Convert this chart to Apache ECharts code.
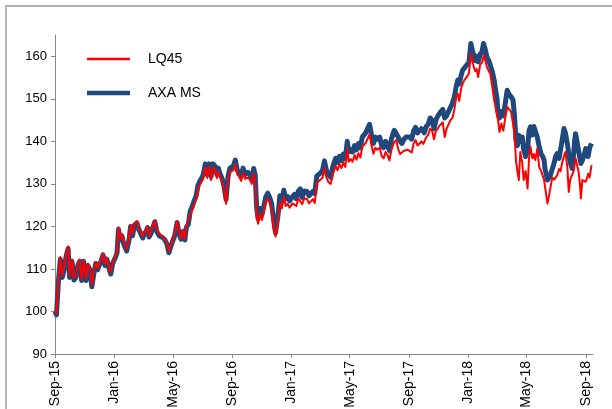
<!DOCTYPE html>
<html>
<head>
<meta charset="utf-8">
<script src="https://cdn.jsdelivr.net/npm/echarts@6/dist/echarts.min.js"></script>
<style>
html,body{margin:0;padding:0;background:#fff;}
#frame{position:absolute;left:5px;top:5px;width:620px;height:420px;border-top:2px solid #b4b4b4;border-left:2px solid #b4b4b4;box-sizing:border-box;}
#chart{position:absolute;left:0;top:0;width:612px;height:409px;}
</style>
</head>
<body>
<div id="frame"></div>
<div id="chart"></div>
<script>
const tickDates = ['2015-09-01','2016-01-01','2016-05-01','2016-09-01','2017-01-01','2017-05-01','2017-09-01','2018-01-01','2018-05-01','2018-09-01'];
const tickLabels = ['Sep-15','Jan-16','May-16','Sep-16','Jan-17','May-17','Sep-17','Jan-18','May-18','Sep-18'];
const yTicks = [90,100,110,120,130,140,150,160];

const dates = [
'2015-09-01','2015-09-04','2015-09-08','2015-09-12','2015-09-16','2015-09-20','2015-09-24','2015-09-28',
'2015-10-01','2015-10-06','2015-10-10','2015-10-14','2015-10-18','2015-10-22','2015-10-26','2015-10-30',
'2015-11-04','2015-11-08','2015-11-12','2015-11-16','2015-11-20','2015-11-24','2015-11-28',
'2015-12-01','2015-12-05','2015-12-09','2015-12-13','2015-12-17','2015-12-21','2015-12-25','2015-12-29',
'2016-01-04','2016-01-07','2016-01-10','2016-01-14','2016-01-17','2016-01-21','2016-01-27',
'2016-02-01','2016-02-04','2016-02-08','2016-02-12','2016-02-17','2016-02-21','2016-02-25','2016-02-29',
'2016-03-03','2016-03-07','2016-03-10','2016-03-13','2016-03-17','2016-03-21','2016-03-25','2016-03-29',
'2016-04-03','2016-04-07','2016-04-11','2016-04-15','2016-04-19','2016-04-23','2016-04-27',
'2016-05-01','2016-05-05','2016-05-10','2016-05-14','2016-05-18','2016-05-22','2016-05-26','2016-05-29',
'2016-06-02','2016-06-06','2016-06-10','2016-06-14','2016-06-18','2016-06-22','2016-06-26','2016-06-29',
'2016-07-03','2016-07-07','2016-07-11','2016-07-15','2016-07-19','2016-07-23','2016-07-27','2016-07-31',
'2016-08-03','2016-08-07','2016-08-11','2016-08-15','2016-08-19','2016-08-23','2016-08-27',
'2016-09-03','2016-09-07','2016-09-11','2016-09-15','2016-09-19','2016-09-23','2016-09-27',
'2016-10-03','2016-10-07','2016-10-11','2016-10-15','2016-10-18','2016-10-21','2016-10-24','2016-10-28',
'2016-11-01','2016-11-05','2016-11-09','2016-11-13','2016-11-17','2016-11-21','2016-11-25','2016-11-29',
'2016-12-04','2016-12-08','2016-12-12','2016-12-16','2016-12-20','2016-12-24','2016-12-28',
'2017-01-03','2017-01-07','2017-01-11','2017-01-15','2017-01-19','2017-01-23','2017-01-27',
'2017-02-02','2017-02-06','2017-02-10','2017-02-14','2017-02-18','2017-02-22','2017-02-26',
'2017-03-02','2017-03-06','2017-03-10','2017-03-14','2017-03-18','2017-03-23','2017-03-27','2017-03-30',
'2017-04-02','2017-04-06','2017-04-10','2017-04-14','2017-04-18','2017-04-22','2017-04-26','2017-04-29',
'2017-05-03','2017-05-07','2017-05-11','2017-05-15','2017-05-19','2017-05-23','2017-05-27',
'2017-06-03','2017-06-07','2017-06-11','2017-06-15','2017-06-19','2017-06-23','2017-06-27',
'2017-07-02','2017-07-06','2017-07-10','2017-07-14','2017-07-18','2017-07-22','2017-07-26','2017-07-30',
'2017-08-01','2017-08-05','2017-08-09','2017-08-13','2017-08-17','2017-08-21','2017-08-25','2017-08-29',
'2017-09-02','2017-09-06','2017-09-10','2017-09-14','2017-09-18','2017-09-22','2017-09-26','2017-09-30',
'2017-10-02','2017-10-06','2017-10-10','2017-10-14','2017-10-18','2017-10-22','2017-10-26','2017-10-30',
'2017-11-01','2017-11-05','2017-11-09','2017-11-13','2017-11-17','2017-11-21','2017-11-25','2017-11-29',
'2017-12-03','2017-12-07','2017-12-10','2017-12-13','2017-12-17','2017-12-20','2017-12-24','2017-12-28',
'2018-01-02','2018-01-06','2018-01-09','2018-01-12','2018-01-15','2018-01-18','2018-01-21','2018-01-25','2018-01-29',
'2018-02-01','2018-02-05','2018-02-08','2018-02-12','2018-02-15','2018-02-19','2018-02-23','2018-02-26',
'2018-03-01','2018-03-03','2018-03-06','2018-03-10','2018-03-14','2018-03-18','2018-03-22','2018-03-26','2018-03-30',
'2018-04-03','2018-04-06','2018-04-09','2018-04-12','2018-04-15','2018-04-18','2018-04-22','2018-04-25','2018-04-29',
'2018-05-03','2018-05-06','2018-05-09','2018-05-13','2018-05-16','2018-05-19','2018-05-23','2018-05-27','2018-05-31',
'2018-06-03','2018-06-06','2018-06-08','2018-06-11','2018-06-13','2018-06-16','2018-06-19','2018-06-23','2018-06-27','2018-06-30',
'2018-07-03','2018-07-07','2018-07-10','2018-07-13','2018-07-17','2018-07-20','2018-07-24','2018-07-27','2018-07-30',
'2018-08-03','2018-08-06','2018-08-08','2018-08-10','2018-08-13','2018-08-16','2018-08-19','2018-08-21','2018-08-24','2018-08-28','2018-08-31',
'2018-09-03','2018-09-05','2018-09-08','2018-09-10','2018-09-12'
];

const axaMS = [
100,99.2,107,112.3,108,110,113,114.8,
108,111.8,107.4,108,110.8,111.8,107.3,111.8,
107.3,110.8,109.8,105.8,108.8,111.3,109.8,
110.8,111.8,113.3,110.8,112.3,110.3,108.8,111.3,
112.8,113.8,119.3,116.8,117.8,115.8,114.2,
117,120,117.8,120.3,120.8,119.3,118.3,117.3,
118.3,118.8,119.7,117.5,118.3,119.8,121.1,118.8,
117.8,118.1,117.3,116.8,115.8,113.8,115.3,
116.6,117.8,120.9,118.3,117,118.8,116.8,119.8,
120.5,123.6,124.6,126,127.1,129.6,130.7,131.2,
132.2,134.7,132.2,134.7,131.7,134.7,134.2,132.2,
133.7,132.2,131.2,129.2,126.3,131.7,133.7,
134.2,135.6,133.2,132.7,131.7,133.7,132.2,
132.7,132.2,131.2,133.6,132.2,124.5,121.8,124.2,
122.8,124.8,127,127.8,126.8,125.3,121.5,118.5,
122.5,127.2,125.8,128.5,126.5,127,126,
127,127.5,126.5,128.3,128.8,126.8,128.3,
128.2,127.2,127.7,128.2,127.7,131.8,132,
132.6,133.2,135.4,133.2,132.2,131.5,134,135,
136,135,136.5,135.5,137,136,140,137.5,
138,137.5,139,138,139.5,138.5,141,
142,143,144,141.5,139.5,141,140.5,
141,139,138.5,140,139,137.8,140.5,142,
142.6,143,141,140,139.5,140.5,141,141,
141,140.5,142.5,143.3,142,142.5,143,142.5,
142,143.5,144,145.5,145,143,145,146,
146,147,147.5,145.5,146,147,148,149,
150.5,153,154.4,153.5,155.5,156.7,157,157.9,
158.5,163,161.5,160.2,159,160,158.7,160.5,161,
163,161.5,159.8,159,158.7,156.5,154.4,152,
150,147,145.5,147,146,149,152,151,150.5,
149.7,146,140.3,139,141.4,140,141,138,136.4,
138,142.5,143.4,141.5,143.5,143.8,141,138.7,137,
136.5,135.6,133.5,132,130.9,131.5,132,133.5,135,136.5,
137.1,136,138,140,143,142,139.5,137,135,
133.6,137,140,141.8,140,137.9,136,134.8,135.5,137,138.3,
137.5,136.4,138.5,139,139.5
];

const lq45 = [
100,99.5,107.5,112.8,108.5,110.5,113.5,115.3,
108.3,112.2,107.8,108.3,111.2,112.2,107.6,112,
107.6,111.2,110.2,106.3,109.2,111.6,110.2,
111.2,112.2,113.6,111.2,112.6,110.6,109.2,111.6,
113.2,114.2,119.8,117.2,118.2,116.2,114.6,
117.4,120.3,118.2,120.6,121.2,119.6,118.6,117.6,
118.6,119.2,120,117.8,118.6,120.2,121.4,119.2,
118.2,118.4,117.6,117.2,116.2,114.2,115.6,
116.9,118.2,121.2,118.6,117.3,119.2,117.1,120.1,
119.7,122.8,123.8,125.2,126.3,128.8,129.9,130.4,
131.4,133.9,131.4,133.9,130.9,133.9,133.4,131.4,
132.9,131.4,130.4,128.4,125.3,130.9,132.9,
133.2,134.6,132.2,131.7,130.7,132.7,131.2,
131.5,131,130,132.4,131,122.5,120.6,123,
121.5,123.5,125.8,126.5,125.5,124,119.5,117.6,
121,125.6,124.2,127,124.8,125.3,124.4,
125.4,125.8,124.8,126.6,127,125.2,126.6,
126.4,125.4,125.9,126.4,125.5,130.2,130.6,
131,131.5,133.6,131.5,130.4,130,132.2,133.2,
134.2,133.2,134.7,133.7,135,134,138.3,135.2,
135.8,135.2,136.8,135.7,137.2,136.2,138.7,
139.6,140.6,141.6,139,137.1,138.5,138,
138.5,136.5,136,137.5,136.8,135.5,138,139.3,
139.8,140.3,138.2,137,137.3,137.8,138.2,138,
138,137.4,139.5,140.3,139,139.5,140,139.4,
139,141,141.5,143,142.5,140.5,142.5,143,
143.5,144,144.5,141,143,144,145,145.5,
147.5,150.5,151.2,149.5,152.5,153.5,154.5,155,
156,160.6,159,157.5,156.5,157,155.1,158,158.5,
160.2,159,157.5,156.5,155.9,153,149.7,148,
146,145,142.2,144.2,142.5,145.5,148.1,147.5,147,
146.9,142,135.6,133,130.9,137.5,135,130.9,133,
128.9,136,138.7,136,137,135.6,138.3,134,133,
132,131,129.3,127,125.4,127,129,131.5,131,130.9,
132,133.5,133,134.8,136.5,137.5,134,128.1,131,
131,133,134.4,136,136.4,133,130,126.6,130.9,131,130.5,
131.5,132.4,131.5,133,134.4
];

if (dates.length !== axaMS.length || dates.length !== lq45.length) {
  throw new Error('length mismatch ' + dates.length + ' ' + axaMS.length + ' ' + lq45.length);
}

function ts(s){const p=s.split('-').map(Number);return Date.UTC(p[0],p[1]-1,p[2]);}
const tickTs = tickDates.map(ts);
function fmt(v){let best=0;for(let i=1;i<tickTs.length;i++){if(Math.abs(tickTs[i]-v)<Math.abs(tickTs[best]-v))best=i;}return tickLabels[best];}

const chart = echarts.init(document.getElementById('chart'), null, {renderer:'canvas'});
const FONT = 'Liberation Sans, Arial, sans-serif';
chart.setOption({
  animation:false,
  backgroundColor:'transparent',
  grid:{left:55,right:19,top:35,bottom:55,containLabel:false,outerBoundsMode:'none'},
  legend:{
    orient:'vertical', left:82, top:47, itemWidth:43, itemHeight:14, itemGap:20,
    symbolKeepAspect:true,
    data:[
      {name:'LQ45', icon:'path://M0,0H43V2.5H0Z'},
      {name:'AXA MS', icon:'path://M0,0H43V4.5H0Z'}
    ],
    textStyle:{fontFamily:FONT,fontSize:14,color:'#000',padding:[0,0,0,13]}
  },
  xAxis:{
    type:'value',
    min:ts('2015-09-01'), max:ts('2018-09-15'),
    axisLine:{show:true,lineStyle:{color:'#868686',width:1}},
    axisTick:{show:true,length:4,lineStyle:{color:'#868686'},customValues:tickTs},
    axisLabel:{show:true,rotate:90,margin:7,fontFamily:FONT,fontSize:14,color:'#000',customValues:tickTs,formatter:fmt,hideOverlap:false},
    splitLine:{show:false}
  },
  yAxis:{
    type:'value', min:90, max:165, interval:10,
    axisLine:{show:true,lineStyle:{color:'#868686',width:1}},
    axisTick:{show:true,length:4,lineStyle:{color:'#868686'},customValues:yTicks},
    axisLabel:{fontFamily:FONT,fontSize:13,color:'#000',margin:8,customValues:yTicks},
    splitLine:{show:false}
  },
  series:[
    {name:'AXA MS',type:'line',symbol:'none',showSymbol:false,
     data:dates.map((d,i)=>[ts(d),axaMS[i]]),
     lineStyle:{color:'#1f497d',width:5,join:'round'},itemStyle:{color:'#1f497d'},z:2},
    {name:'LQ45',type:'line',symbol:'none',showSymbol:false,
     data:dates.map((d,i)=>[ts(d),lq45[i]]),
     lineStyle:{color:'#ff0000',width:2,join:'round'},itemStyle:{color:'#ff0000'},z:3}
  ]
});
</script>
</body>
</html>
